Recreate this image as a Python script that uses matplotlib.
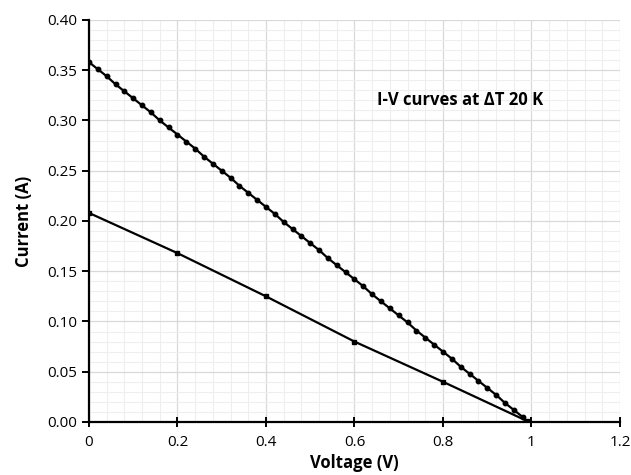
import numpy as np
import matplotlib.pyplot as plt
from matplotlib.ticker import MultipleLocator, FormatStrFormatter

# upper curve, sampled every 0.02 V
v_upper = [0.00, 0.02, 0.04, 0.06, 0.08, 0.10, 0.12, 0.14, 0.16, 0.18,
           0.20, 0.22, 0.24, 0.26, 0.28, 0.30, 0.32, 0.34, 0.36, 0.38,
           0.40, 0.42, 0.44, 0.46, 0.48, 0.50, 0.52, 0.54, 0.56, 0.58,
           0.60, 0.62, 0.64, 0.66, 0.68, 0.70, 0.72, 0.74, 0.76, 0.78,
           0.80, 0.82, 0.84, 0.86, 0.88, 0.90, 0.92, 0.94, 0.96, 0.98]
i_upper = [0.358, 0.351, 0.344, 0.336, 0.329, 0.322, 0.315, 0.308, 0.300, 0.293,
           0.286, 0.279, 0.272, 0.264, 0.257, 0.250, 0.243, 0.235, 0.228, 0.221,
           0.214, 0.207, 0.199, 0.192, 0.185, 0.178, 0.171, 0.163, 0.156, 0.149,
           0.142, 0.135, 0.127, 0.120, 0.113, 0.106, 0.099, 0.091, 0.084, 0.077,
           0.070, 0.063, 0.055, 0.048, 0.041, 0.034, 0.027, 0.019, 0.012, 0.005]

# lower curve
v_lower = [0.0, 0.2, 0.4, 0.6, 0.8, 0.99]
i_lower = [0.208, 0.168, 0.125, 0.080, 0.040, 0.001]

plt.rcParams['font.family'] = ['Open Sans', 'DejaVu Sans']

fig = plt.figure(figsize=(6.31, 4.75), dpi=100)
ax = fig.add_axes([0.141, 0.1116, 0.8415, 0.8464])

ax.plot(v_upper, i_upper, color='black', lw=1.6, marker='o', ms=3.2)
ax.plot(v_lower, i_lower, color='black', lw=1.6, marker='s', ms=3.2)

ax.set_xlim(0, 1.2)
ax.set_ylim(0, 0.40)
ax.xaxis.set_major_locator(MultipleLocator(0.2))
ax.xaxis.set_minor_locator(MultipleLocator(0.04))
ax.yaxis.set_major_locator(MultipleLocator(0.05))
ax.yaxis.set_minor_locator(MultipleLocator(0.01))
ax.yaxis.set_major_formatter(FormatStrFormatter('%.2f'))
ax.set_xticks(np.arange(0, 1.21, 0.2))
ax.set_xticklabels(['0', '0.2', '0.4', '0.6', '0.8', '1', '1.2'])

ax.grid(which='major', color='#d9d9d9', lw=0.9)
ax.grid(which='minor', color='#eeeeee', lw=0.8)
ax.set_axisbelow(True)

for s in ['top', 'right']:
    ax.spines[s].set_visible(False)
ax.spines['left'].set_linewidth(1.6)
ax.spines['bottom'].set_linewidth(1.6)
ax.tick_params(which='major', direction='out', length=5, width=1.4,
               labelsize=11, colors='black')
ax.tick_params(axis='x', which='major', direction='inout', length=7, pad=6)
ax.tick_params(which='minor', length=0)

ax.set_xlabel('Voltage (V)', fontsize=12, fontweight='bold', labelpad=3)
ax.set_ylabel('Current (A)', fontsize=12, fontweight='bold', labelpad=10)

ax.text(0.652, 0.320, 'I-V curves at ΔT 20 K', fontsize=12,
        fontweight='bold', va='center', ha='left')

fig.savefig('out.png', dpi=100)
